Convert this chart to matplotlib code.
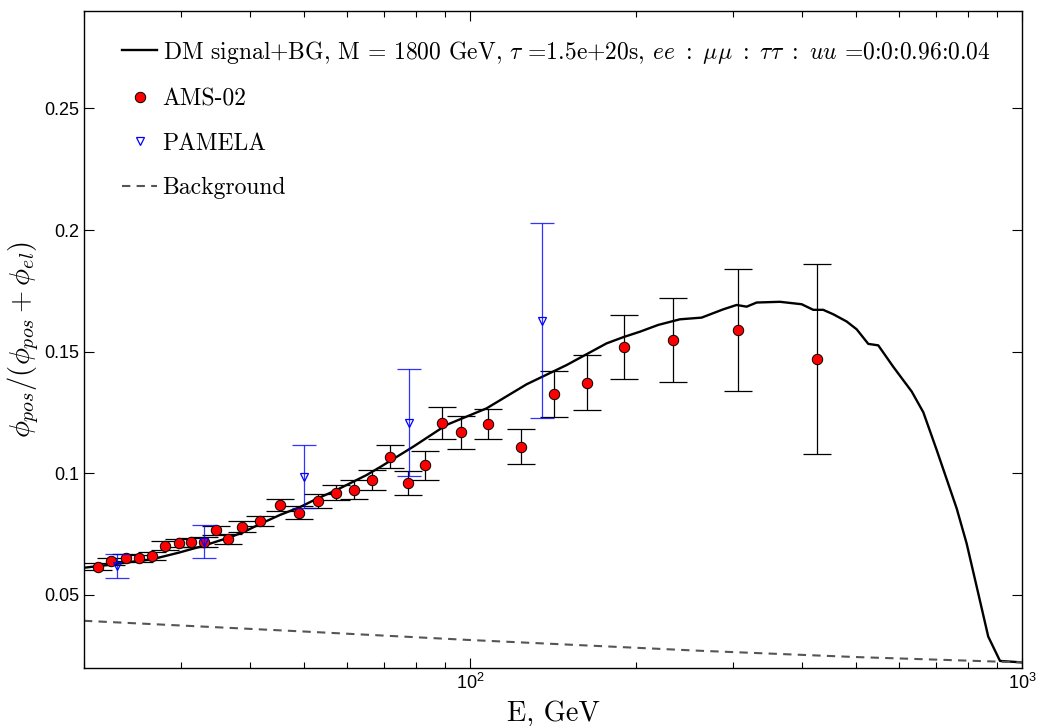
import matplotlib
matplotlib.use('Agg')
import matplotlib.pyplot as plt
from matplotlib.ticker import FixedLocator, FormatStrFormatter, LogLocator, NullFormatter

plt.rcParams['font.family'] = 'Liberation Sans'
plt.rcParams['mathtext.fontset'] = 'cm'

# DM signal + background curve
curve_E = [20, 22.4, 23.8, 26.6, 29.7, 33.0, 34.7, 36.5, 38.7, 41.7, 45.3, 49.2, 53.0, 57.3,
           65.0, 68.7, 78.9, 90.7, 107.2, 126.7, 149.7, 176.8, 189.8, 203.2, 219.4, 240.1,
           262.9, 287.7, 304.2, 317.2, 330.7, 364.4, 399.0, 418.8, 436.5, 455.0, 481.4,
           501.9, 526.8, 549.2, 584.6, 631.5, 662.7, 700.7, 761.6, 793.9, 833.3, 868.8,
           912.5, 1000]
curve_frac = [0.0612, 0.0625, 0.0633, 0.0647, 0.0674, 0.0703, 0.0719, 0.0735, 0.0756, 0.0792,
              0.0829, 0.0861, 0.0897, 0.0931, 0.0993, 0.1025, 0.1109, 0.1199, 0.1267, 0.1366,
              0.1445, 0.1534, 0.1560, 0.1582, 0.1610, 0.1633, 0.1640, 0.1674, 0.1692, 0.1685,
              0.1702, 0.1705, 0.1695, 0.1672, 0.1672, 0.1654, 0.1624, 0.1592, 0.1532, 0.1526,
              0.1438, 0.1336, 0.1251, 0.1096, 0.0856, 0.0712, 0.0507, 0.0329, 0.0229, 0.0223]

# AMS-02 positron fraction
ams_E = [21.2, 22.4, 23.8, 25.2, 26.6, 28.1, 29.7, 31.2, 33.0, 34.7, 36.5, 38.7, 41.7, 45.3,
         49.0, 53.0, 57.3, 61.7, 66.5, 71.7, 77.3, 83.1, 89.2, 96.3, 107.7, 123.9, 141.8,
         162.7, 190.1, 233.2, 305.5, 425.3]
ams_frac = [0.0616, 0.0638, 0.0653, 0.0651, 0.0660, 0.0703, 0.0715, 0.0717, 0.0718, 0.0766,
            0.0730, 0.0781, 0.0805, 0.0870, 0.0838, 0.0886, 0.0920, 0.0933, 0.0973, 0.1068,
            0.0961, 0.1033, 0.1206, 0.1169, 0.1204, 0.1109, 0.1326, 0.1372, 0.1520, 0.1549,
            0.1589, 0.1470]
ams_err = [0.0014, 0.0015, 0.0015, 0.0014, 0.0015, 0.0017, 0.0017, 0.0019, 0.0019, 0.0019,
           0.0021, 0.0022, 0.0021, 0.0025, 0.0027, 0.0029, 0.0031, 0.0038, 0.0041, 0.0048,
           0.0050, 0.0060, 0.0066, 0.0068, 0.0061, 0.0072, 0.0095, 0.0113, 0.0132, 0.0172,
           0.0251, 0.0390]

# PAMELA
pam_E = [23.0, 33.0, 50.1, 77.5, 135.2]
pam_frac = [0.0620, 0.0719, 0.0986, 0.1208, 0.1627]
pam_err = [0.0049, 0.0068, 0.0130, 0.0219, 0.0401]

# Background
bg_E = [20, 50, 100, 260, 500, 1000]
bg_frac = [0.0394, 0.0350, 0.0315, 0.0271, 0.0245, 0.0223]

fig = plt.figure(figsize=(10.39, 7.26), dpi=100)
ax = fig.add_axes([0.0808, 0.0799, 0.9028, 0.9049])

ax.plot(curve_E, curve_frac, color='black', lw=1.7,
        label=r'DM signal+BG, M = 1800 GeV, $\tau$ =1.5e+20s, $ee\ :\ \mu\mu\ :\ \tau\tau\ :\ uu$ =0:0:0.96:0.04')

ax.errorbar(ams_E, ams_frac, yerr=ams_err, fmt='none', ecolor='black', elinewidth=0.9,
            capsize=10, capthick=0.9)
ax.plot(ams_E, ams_frac, 'o', ms=7.5, mfc='red', mec='black', mew=0.7, label='AMS-02')

ax.errorbar(pam_E, pam_frac, yerr=pam_err, fmt='none', ecolor='blue', elinewidth=0.9,
            capsize=8.3, capthick=0.9, alpha=0.8)
ax.plot(pam_E, pam_frac, 'v', ms=5.5, mfc='none', mec='blue', mew=0.9, label='PAMELA')

ax.plot(bg_E, bg_frac, '--', color='#555555', lw=1.5, dashes=(4, 3), label='Background')

ax.set_xscale('log')
ax.set_xlim(20, 1000)
ax.set_ylim(0.02, 0.29)
ax.yaxis.set_major_locator(FixedLocator([0.05, 0.1, 0.15, 0.2, 0.25]))
ax.yaxis.set_major_formatter(FormatStrFormatter('%g'))
ax.xaxis.set_major_locator(LogLocator(base=10, numticks=10))
ax.xaxis.set_minor_locator(LogLocator(base=10, subs=range(2, 10), numticks=20))
ax.xaxis.set_minor_formatter(NullFormatter())

ax.tick_params(which='both', direction='in', top=True, right=True, labelsize=13, width=0.8)
ax.tick_params(which='major', length=7)
ax.tick_params(which='minor', length=4)
for s in ax.spines.values():
    s.set_linewidth(1.0)

ax.set_xlabel('E, GeV', family='cmr10', fontsize=20.5, labelpad=6)
ax.set_ylabel(r'$\phi_{pos}/(\phi_{pos}+\phi_{el})$', fontsize=20.5, labelpad=2)

ax.legend(loc='upper left', bbox_to_anchor=(0.0405, 0.958), frameon=False,
          prop={'family': 'cmr10', 'size': 17}, handlelength=1.5, handletextpad=0.22,
          labelspacing=0.95, numpoints=1, borderpad=0, borderaxespad=0)

fig.savefig('out.png', dpi=100)
